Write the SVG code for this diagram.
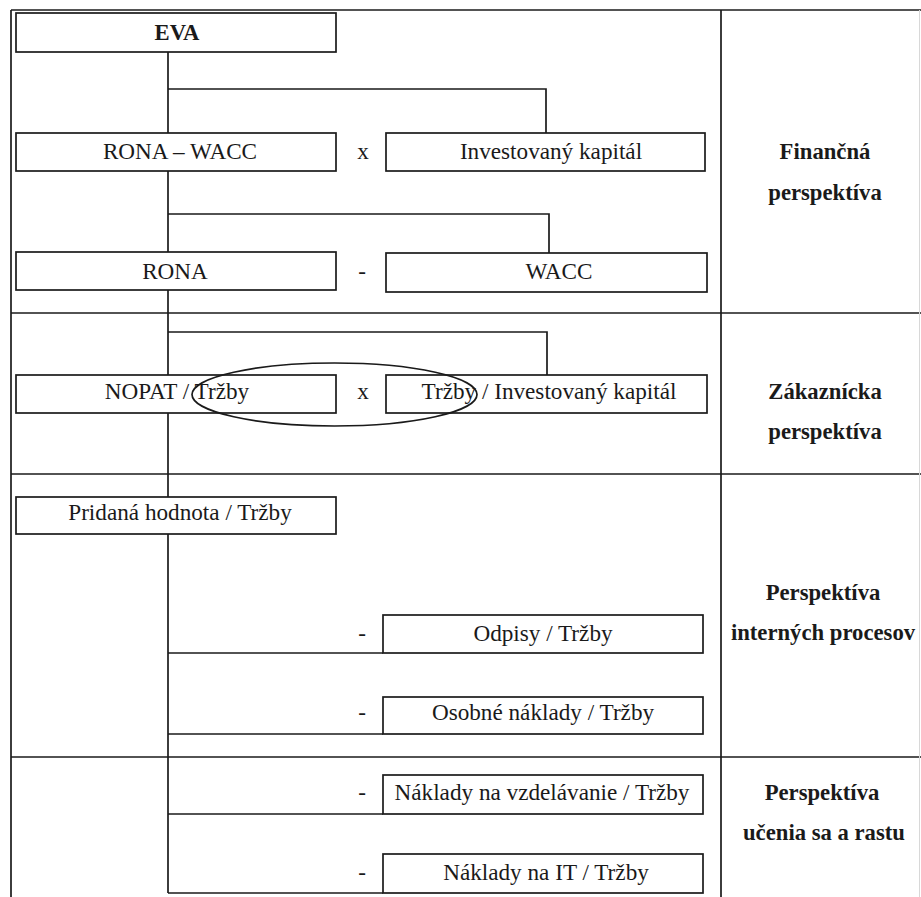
<svg xmlns="http://www.w3.org/2000/svg" width="921" height="897" viewBox="0 0 921 897">
<style>
.box{fill:#fff;stroke:#1a1a1a;stroke-width:1.7}
.ln{fill:none;stroke:#1a1a1a;stroke-width:1.7}
.t{font-family:"Liberation Serif","Times New Roman",serif;font-size:23.2px;fill:#1a1a1a;text-anchor:middle}
.b{font-weight:bold;font-size:22.7px}
</style>
<rect width="921" height="897" fill="#fff"/>
<g id="table" class="ln">
<line x1="11" y1="10" x2="921" y2="10"/>
<line x1="11" y1="10" x2="11" y2="897"/>
<line x1="721" y1="10" x2="721" y2="897"/>
<line x1="11" y1="313" x2="921" y2="313"/>
<line x1="11" y1="474" x2="921" y2="474"/>
<line x1="11" y1="757" x2="921" y2="757"/>
<line x1="919.5" y1="10" x2="919.5" y2="897" style="stroke:#d8d8d8;stroke-width:1"/>
</g>
<g id="connectors" class="ln">
<line x1="168" y1="52" x2="168" y2="893"/>
<polyline points="168,89 546,89 546,133"/>
<polyline points="168,214 549,214 549,253"/>
<polyline points="168,332 547,332 547,375"/>
<polyline points="168,653 383,653"/>
<polyline points="168,734 383,734"/>
<polyline points="168,814 383,814"/>
<polyline points="168,893 383,893"/>
</g>
<g id="eva"><rect class="box" x="16" y="13" width="320" height="39"/><text class="t b" x="177" y="40">EVA</text></g>
<g id="rona-wacc"><rect class="box" x="16" y="133" width="320" height="38"/><text class="t" x="180" y="159">RONA – WACC</text></g>
<text class="t" x="363" y="159">x</text>
<g id="investovany"><rect class="box" x="386" y="133" width="319" height="38"/><text class="t" x="551" y="159">Investovaný kapitál</text></g>
<g id="rona"><rect class="box" x="16" y="252" width="320" height="38"/><text class="t" x="175" y="279">RONA</text></g>
<text class="t" x="362" y="279">-</text>
<g id="wacc"><rect class="box" x="386" y="253" width="321" height="39"/><text class="t" x="559" y="279">WACC</text></g>
<g id="nopat"><rect class="box" x="16" y="375" width="320" height="38"/><text class="t" x="177" y="399">NOPAT / Tržby</text></g>
<text class="t" x="363" y="399">x</text>
<g id="trzby-ik"><rect class="box" x="386" y="375" width="321" height="38"/><text class="t" x="549" y="399">Tržby / Investovaný kapitál</text></g>
<ellipse id="oval" cx="334.5" cy="394.5" rx="142.5" ry="31.5" class="ln"/>
<g id="pridana"><rect class="box" x="16" y="497" width="320" height="37"/><text class="t" x="180" y="520">Pridaná hodnota / Tržby</text></g>
<g id="odpisy"><rect class="box" x="383" y="615" width="320" height="38"/><text class="t" x="543" y="641">Odpisy / Tržby</text></g>
<text class="t" x="362" y="641">-</text>
<g id="osobne"><rect class="box" x="383" y="697" width="320" height="37"/><text class="t" x="543" y="720">Osobné náklady / Tržby</text></g>
<text class="t" x="362" y="720">-</text>
<g id="vzdelavanie"><rect class="box" x="383" y="775" width="320" height="39"/><text class="t" x="542" y="800">Náklady na vzdelávanie / Tržby</text></g>
<text class="t" x="362" y="800">-</text>
<g id="it"><rect class="box" x="383" y="854" width="320" height="39"/><text class="t" x="546" y="880">Náklady na IT / Tržby</text></g>
<text class="t" x="362" y="880">-</text>
<g id="labels">
<text class="t b" x="825" y="159">Finančná</text>
<text class="t b" x="825" y="200">perspektíva</text>
<text class="t b" x="825" y="399">Zákaznícka</text>
<text class="t b" x="825" y="439">perspektíva</text>
<text class="t b" x="823" y="600">Perspektíva</text>
<text class="t b" x="823" y="640">interných procesov</text>
<text class="t b" x="822" y="800">Perspektíva</text>
<text class="t b" x="824" y="840">učenia sa a rastu</text>
</g>
</svg>
